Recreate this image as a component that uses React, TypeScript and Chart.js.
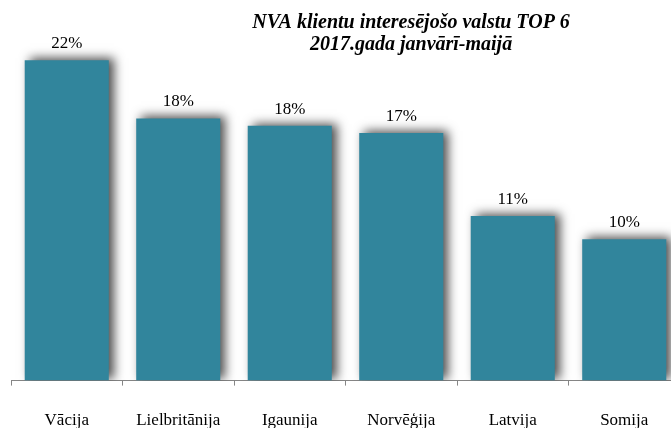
import React, { useEffect, useRef } from "react";
import { Chart, registerables } from "chart.js";

Chart.register(...registerables);

const categories = ["Vācija", "Lielbritānija", "Igaunija", "Norvēģija", "Latvija", "Somija"];
const values = [22.0, 18.0, 17.5, 17.0, 11.3, 9.7];
const titleLines = ["NVA klientu interesējošo valstu TOP 6", "2017.gada janvārī-maijā"];

const BAR_COLOR = "#31859C";
const AXIS_COLOR = "#868686";
const SERIF = '"Liberation Serif", "Times New Roman", serif';

export default function App() {
  const canvasRef = useRef<HTMLCanvasElement | null>(null);

  useEffect(() => {
    const canvas = canvasRef.current;
    if (!canvas) return;

    const shadowPlugin = {
      id: "barShadow",
      beforeDatasetsDraw(chart: any) {
        const ctx = chart.ctx;
        ctx.save();
        ctx.shadowColor = "rgba(0,0,0,0.7)";
        ctx.shadowBlur = 10;
        ctx.shadowOffsetX = 5;
        ctx.shadowOffsetY = -2;
      },
      afterDatasetsDraw(chart: any) {
        chart.ctx.restore();
      },
    };

    const labelsAndTitle = {
      id: "labelsAndTitle",
      afterDraw(chart: any) {
        const ctx = chart.ctx;
        const meta = chart.getDatasetMeta(0);
        ctx.save();
        ctx.fillStyle = "#000";
        ctx.font = `17px ${SERIF}`;
        ctx.textAlign = "center";
        ctx.textBaseline = "alphabetic";
        meta.data.forEach((bar: any, i: number) => {
          ctx.fillText(`${Math.round(values[i])}%`, bar.x, bar.y - 12);
        });
        const area = chart.chartArea;
        const cx = area.left + (area.right - area.left) * 0.598;
        ctx.font = `italic bold 20px ${SERIF}`;
        ctx.fillText(titleLines[0], cx, 28);
        ctx.fillText(titleLines[1], cx, 50);
        ctx.restore();
      },
    };

    const chart = new Chart(canvas, {
      type: "bar",
      data: {
        labels: categories,
        datasets: [
          {
            data: values,
            backgroundColor: BAR_COLOR,
            borderWidth: 0,
            barPercentage: 0.754,
            categoryPercentage: 1,
          },
        ],
      },
      options: {
        responsive: false,
        animation: false,
        layout: { padding: { left: 11, right: 0, top: 31, bottom: 0 } },
        plugins: {
          legend: { display: false },
          title: { display: false },
          tooltip: { enabled: false },
        },
        scales: {
          x: {
            offset: true,
            grid: {
              offset: true,
              drawOnChartArea: false,
              drawTicks: true,
              tickLength: 5,
              color: AXIS_COLOR,
            },
            border: { display: true, color: AXIS_COLOR, width: 1 },
            ticks: {
              color: "#000",
              padding: 25,
              maxRotation: 0,
              autoSkip: false,
              font: { family: SERIF, size: 17 },
            },
          },
          y: {
            display: false,
            min: 0,
            max: 24,
          },
        },
      },
      plugins: [shadowPlugin, labelsAndTitle],
    });

    return () => chart.destroy();
  }, []);

  return (
    <div
      style={{
        position: "absolute",
        left: 0,
        top: 0,
        width: 671,
        height: 428,
        overflow: "hidden",
        background: "#fff",
      }}
    >
      <canvas ref={canvasRef} width={680} height={456} style={{ display: "block" }} />
    </div>
  );
}
